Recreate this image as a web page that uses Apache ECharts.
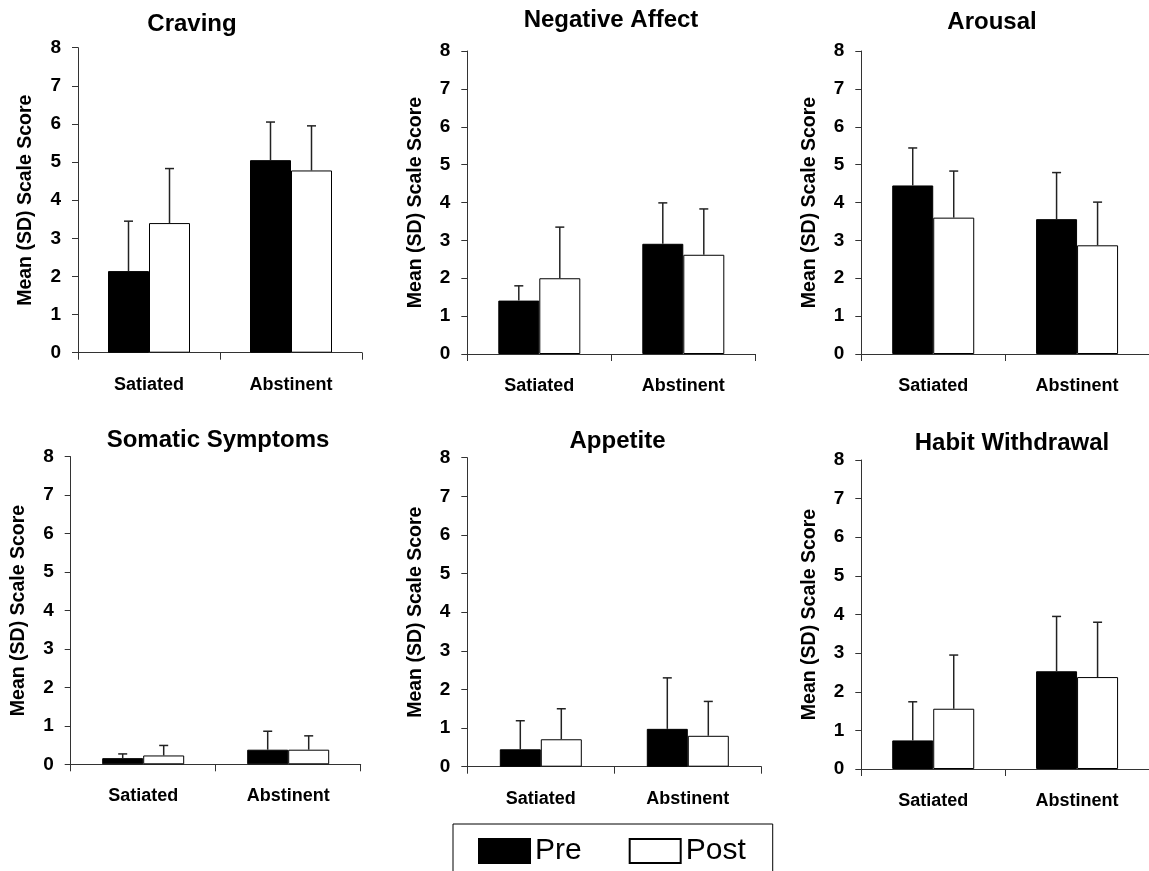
<!DOCTYPE html>
<html><head><meta charset="utf-8">
<script src="https://cdn.jsdelivr.net/npm/echarts@6/dist/echarts.min.js"></script>
<style>html,body{margin:0;padding:0;background:#fff}#c{width:1149px;height:871px}</style>
</head><body><div id="c"></div>
<script>
// ---- data ----
const categories = ['Satiated', 'Abstinent'];
const panelTitles = ['Craving', 'Negative Affect', 'Arousal', 'Somatic Symptoms', 'Appetite', 'Habit Withdrawal'];
const seriesNames = ['Pre', 'Post'];
const yAxisName = 'Mean (SD) Scale Score';
const yTickMin = 0, yTickMax = 8, yTickStep = 1;
// mean values per panel: [Satiated, Abstinent]
const preMean  = [[2.14, 5.05], [1.41, 2.91], [4.45, 3.56], [0.16, 0.38], [0.45, 0.98], [0.74, 2.53]];
const preSD    = [[1.31, 1.00], [0.39, 1.08], [0.99, 1.23], [0.11, 0.48], [0.74, 1.32], [1.00, 1.42]];
const postMean = [[3.40, 4.78], [2.00, 2.62], [3.60, 2.87], [0.23, 0.38], [0.71, 0.80], [1.56, 2.38]];
const postSD   = [[1.43, 1.17], [1.35, 1.21], [1.23, 1.14], [0.26, 0.36], [0.79, 0.89], [1.39, 1.42]];

// ---- layout / style ----
const FONT = '"Liberation Sans", Arial, sans-serif';
const layout = [
  {left: 78,    top: 47.7,  width: 284, height: 305,   tx: 192,   ty: 22.5},
  {left: 467.3, top: 51,    width: 288, height: 303,   tx: 611,   ty: 18.3},
  {left: 861.3, top: 51,    width: 291, height: 303,   tx: 992,   ty: 20.8},
  {left: 70.7,  top: 456.7, width: 290, height: 307.6, tx: 218,   ty: 438},
  {left: 467.3, top: 457.7, width: 294, height: 309,   tx: 617.5, ty: 439.5},
  {left: 861.3, top: 460,   width: 292, height: 309,   tx: 1012,  ty: 441.7}
];
const BAR_W = 41;
const AX = '#333';

function errRender(sign) {
  return function (params, api) {
    const c = api.value(0), m = api.value(1), sd = api.value(2);
    const base = api.coord([c, m]);
    const top = api.coord([c, m + sd]);
    const x = base[0] + sign * BAR_W / 2;
    const st = {stroke: '#222', lineWidth: 1.5};
    return {type: 'group', children: [
      {type: 'line', shape: {x1: x, y1: base[1], x2: x, y2: top[1]}, style: st},
      {type: 'line', shape: {x1: x - 4.5, y1: top[1], x2: x + 4.5, y2: top[1]}, style: st}
    ]};
  };
}

const grid = [], xAxis = [], yAxis = [], series = [], title = [];
layout.forEach((L, i) => {
  grid.push({left: L.left, top: L.top, width: L.width, height: L.height, containLabel: false});
  title.push({
    text: panelTitles[i], left: L.tx, top: L.ty - 10, textAlign: 'center', padding: 0,
    textStyle: {fontFamily: FONT, fontSize: 24, fontWeight: 'bold', color: '#000'}
  });
  xAxis.push({
    type: 'category', gridIndex: i, data: categories,
    axisLine: {lineStyle: {color: AX, width: 1}},
    axisTick: {show: true, length: 7, lineStyle: {color: AX}},
    axisLabel: {margin: 23, fontFamily: FONT, fontSize: 18, fontWeight: 'bold', color: '#000'},
    splitLine: {show: false}
  });
  yAxis.push({
    type: 'value', gridIndex: i, min: yTickMin, max: yTickMax, interval: yTickStep,
    axisLine: {show: true, lineStyle: {color: AX, width: 1}},
    axisTick: {show: true, length: 6, lineStyle: {color: AX}},
    splitLine: {show: false},
    axisLabel: {margin: 17, fontFamily: FONT, fontSize: 19, fontWeight: 'bold', color: '#000'},
    name: yAxisName, nameLocation: 'middle', nameGap: 42,
    nameTextStyle: {fontFamily: FONT, fontSize: 19.5, fontWeight: 'bold', color: '#000'}
  });
  series.push({
    type: 'bar', name: seriesNames[0], xAxisIndex: i, yAxisIndex: i, data: preMean[i],
    barWidth: BAR_W, barGap: '0%',
    itemStyle: {color: '#000', borderColor: '#000', borderWidth: 1}
  });
  series.push({
    type: 'bar', name: seriesNames[1], xAxisIndex: i, yAxisIndex: i, data: postMean[i],
    barWidth: BAR_W, barGap: '0%',
    itemStyle: {color: '#fff', borderColor: '#000', borderWidth: 1}
  });
  series.push({
    type: 'custom', xAxisIndex: i, yAxisIndex: i, z: 5,
    data: categories.map((c, k) => [k, preMean[i][k], preSD[i][k]]),
    encode: {x: 0, y: 1}, renderItem: errRender(-1)
  });
  series.push({
    type: 'custom', xAxisIndex: i, yAxisIndex: i, z: 5,
    data: categories.map((c, k) => [k, postMean[i][k], postSD[i][k]]),
    encode: {x: 0, y: 1}, renderItem: errRender(1)
  });
});

const chart = echarts.init(document.getElementById('c'), null, {renderer: 'canvas'});
chart.setOption({
  animation: false,
  backgroundColor: '#fff',
  title: title,
  grid: grid,
  xAxis: xAxis,
  yAxis: yAxis,
  legend: {
    data: seriesNames, left: 453, top: 824, orient: 'horizontal',
    itemWidth: 51, itemHeight: 24, itemGap: 47, icon: 'rect',
    padding: [12, 27, 20, 25], borderColor: '#000', borderWidth: 1,
    textStyle: {fontFamily: FONT, fontSize: 30, color: '#000'}
  },
  series: series
});
</script></body></html>
